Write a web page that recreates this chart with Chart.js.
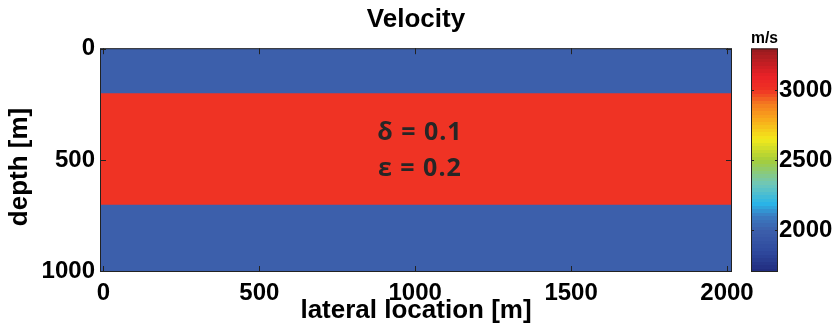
<!DOCTYPE html>
<html><head><meta charset="utf-8">
<script src="https://cdn.jsdelivr.net/npm/chart.js@4.4.1/dist/chart.umd.min.js"></script>
<style>
html,body{margin:0;padding:0;background:#fff;}
#wrap{position:relative;width:839px;height:332px;overflow:hidden;}
#main{position:absolute;left:0;top:0;}
#cb{position:absolute;left:700px;top:0;}
</style></head><body>
<div id="wrap">
<canvas id="main" width="839" height="332"></canvas>
<canvas id="cb" width="139" height="332"></canvas>
</div>
<script>
// ---- data ----
const layerNames = ['upper layer', 'anisotropic layer', 'lower layer'];
const layerTop = [-2.5, 200, 700];          // depth of layer top [m]
const layerVelocity = [2000, 3000, 2000];   // m/s
const modelX = [-11, 2016];                 // lateral extent [m]
const modelZ = [-2.5, 1002.5];              // depth extent [m]
const xTicks = [0, 500, 1000, 1500, 2000];
const yTicks = [0, 500, 1000];
const cbTicks = [2000, 2500, 3000];
const velocityRange = [1700, 3300];
const annotLines = ['δ = 0.1', 'ε = 0.2'];
const annotX = 1015;
const annotDepth = [378, 540];

// ---- colormap (jet-like, as in the reference) ----
const cmapV = [1700, 1850, 2000, 2100, 2190, 2330, 2500, 2650, 2800, 2900, 3000, 3100, 3300];
const cmapC = ['#202a7c','#2f4a9e','#3c5fab','#3a7cc2','#2ab5e8','#6fc7b9','#a6ce39','#f2e91b','#f8a51b','#f47c20','#ef3324','#e92127','#951b1e'];
function hex(c){return [1,3,5].map(i=>parseInt(c.substr(i,2),16));}
function colorFor(v){
  if(v<=cmapV[0]) return cmapC[0];
  for(let i=1;i<cmapV.length;i++){
    if(v<=cmapV[i]){
      const t=(v-cmapV[i-1])/(cmapV[i]-cmapV[i-1]);
      const a=hex(cmapC[i-1]), b=hex(cmapC[i]);
      return 'rgb('+a.map((x,k)=>Math.round(x+(b[k]-x)*t)).join(',')+')';
    }
  }
  return cmapC[cmapC.length-1];
}

const FONT = '"Liberation Sans", Arial, sans-serif';
const plain = v => String(v);

const framePlugin = {
  id: 'frame',
  afterDatasetsDraw(chart){
    const {ctx, chartArea:a, scales:{x, y}} = chart;
    ctx.save();
    ctx.strokeStyle = '#222'; ctx.lineWidth = 1;
    ctx.strokeRect(a.left+0.5, a.top+0.5, a.right-a.left-1, a.bottom-a.top-1);
    ctx.beginPath();
    xTicks.forEach(v=>{
      const px = Math.round(x.getPixelForValue(v))+0.5;
      ctx.moveTo(px, a.bottom); ctx.lineTo(px, a.bottom-6);
      ctx.moveTo(px, a.top); ctx.lineTo(px, a.top+6);
    });
    yTicks.forEach(v=>{
      const py = Math.round(y.getPixelForValue(v))+0.5;
      ctx.moveTo(a.left, py); ctx.lineTo(a.left+6, py);
      ctx.moveTo(a.right, py); ctx.lineTo(a.right-6, py);
    });
    ctx.stroke();
    ctx.font = 'bold 25px "Open Sans"';
    if ('letterSpacing' in ctx) ctx.letterSpacing = '1px';
    ctx.fillStyle = '#262626';
    ctx.textAlign = 'center'; ctx.textBaseline = 'middle';
    annotLines.forEach((t,i)=>ctx.fillText(t, x.getPixelForValue(annotX), y.getPixelForValue(annotDepth[i])));
    ctx.restore();
    // y axis title
    ctx.save();
    if ('letterSpacing' in ctx) ctx.letterSpacing = '0px';
    ctx.translate(20, 167);
    ctx.rotate(-Math.PI/2);
    ctx.font = 'bold 26px ' + FONT;
    ctx.fillStyle = '#000';
    ctx.textAlign = 'center'; ctx.textBaseline = 'middle';
    ctx.fillText('depth [m]', 0, 0);
    ctx.restore();
  }
};

new Chart(document.getElementById('main'), {
  type: 'line',
  data: {
    datasets: layerVelocity.map((v,i)=>({
      label: layerNames[i],
      data: [{x:modelX[0], y:layerTop[i]}, {x:modelX[1], y:layerTop[i]}],
      fill: {value: modelZ[1]},
      order: layerVelocity.length - i,
      backgroundColor: colorFor(v),
      borderColor: colorFor(v),
      borderWidth: 0, pointRadius: 0, tension: 0, showLine: false
    }))
  },
  options: {
    responsive: false, animation: false,
    layout: {padding: {left:0, right:107, top:0, bottom:0}},
    plugins: {
      legend: {display:false}, tooltip: {enabled:false},
      title: {display:true, text:'Velocity', fullSize:false, color:'#000',
        font:{family:FONT, size:26, weight:'bold'}, padding:{top:4, bottom:13}}
    },
    scales: {
      x: {type:'linear', min:modelX[0], max:modelX[1],
        afterBuildTicks: s=>{ s.ticks = xTicks.map(v=>({value:v})); },
        afterFit: s=>{ s.height = 60; },
        grid:{display:false, drawTicks:false}, border:{display:false},
        ticks:{color:'#000', font:{family:FONT, size:24, weight:'bold'}, padding:7, maxRotation:0, autoSkip:false, callback: plain},
        title:{display:true, text:'lateral location [m]', color:'#000', font:{family:FONT, size:26, weight:'bold'}, padding:{top:0, bottom:6}}
      },
      y: {type:'linear', reverse:true, min:modelZ[0], max:modelZ[1],
        afterBuildTicks: s=>{ s.ticks = yTicks.map(v=>({value:v})); },
        afterFit: s=>{ s.width = 100; },
        grid:{display:false, drawTicks:false}, border:{display:false},
        ticks:{color:'#000', font:{family:FONT, size:24, weight:'bold'}, padding:5, autoSkip:false, callback: plain},
        title:{display:false, text:'depth [m]'}
      }
    }
  },
  plugins: [framePlugin]
});

// ---- colorbar ----
const cbFrame = {
  id: 'cbFrame',
  afterDatasetsDraw(chart){
    const {ctx, chartArea:a, scales:{y}} = chart;
    ctx.save();
    ctx.strokeStyle = '#222'; ctx.lineWidth = 1;
    ctx.strokeRect(a.left+0.5, a.top+0.5, a.right-a.left-1, a.bottom-a.top-1);
    ctx.beginPath();
    cbTicks.forEach(v=>{
      const py = Math.round(y.getPixelForValue(v))+0.5;
      ctx.moveTo(a.left, py); ctx.lineTo(a.left+3, py);
      ctx.moveTo(a.right, py); ctx.lineTo(a.right-3, py);
    });
    ctx.stroke();
    ctx.restore();
  }
};

function cbGradient(context){
  const chart = context.chart;
  const y = chart.scales.y;
  if(!chart.chartArea || !y) return '#3c5fab';
  const y0 = y.getPixelForValue(velocityRange[0]);
  const y1 = y.getPixelForValue(velocityRange[1]);
  const g = chart.ctx.createLinearGradient(0, y0, 0, y1);
  const n = 64;
  for(let k=0;k<n;k++){
    const v = velocityRange[0] + (k+0.5)*(velocityRange[1]-velocityRange[0])/n;
    const c = colorFor(v);
    g.addColorStop(k/n, c);
    g.addColorStop((k+1)/n, c);
  }
  return g;
}

new Chart(document.getElementById('cb'), {
  type: 'bar',
  data: {
    labels: ['velocity'],
    datasets: [{data:[velocityRange], backgroundColor: cbGradient, borderWidth:0, barPercentage:1, categoryPercentage:1}]
  },
  options: {
    responsive:false, animation:false,
    layout: {padding:{left:51, right:0, top:0, bottom:60}},
    plugins: {
      legend:{display:false}, tooltip:{enabled:false},
      title:{display:true, text:'m/s', fullSize:false, color:'#000',
        font:{family:FONT, size:17, weight:'bold'}, padding:{top:28, bottom:0}}
    },
    scales: {
      x: {display:false},
      y: {type:'linear', position:'right', min:velocityRange[0], max:velocityRange[1],
        afterBuildTicks: s=>{ s.ticks = cbTicks.map(v=>({value:v})); },
        afterFit: s=>{ s.width = 61; },
        grid:{display:false, drawTicks:false}, border:{display:false},
        ticks:{color:'#000', font:{family:FONT, size:24, weight:'bold'}, padding:1, autoSkip:false, callback: plain}
      }
    }
  },
  plugins: [cbFrame]
});
</script>
</body></html>
